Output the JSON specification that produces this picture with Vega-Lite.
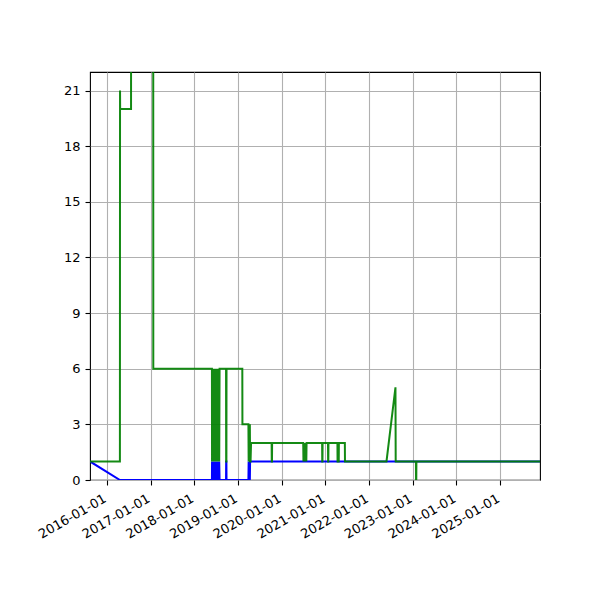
{
  "$schema": "https://vega.github.io/schema/vega-lite/v6.json",
  "autosize": "none",
  "width": 450,
  "height": 408,
  "padding": {"left": 90, "top": 72, "right": 60, "bottom": 120},
  "background": "white",
  "config": {
    "view": {"stroke": "black", "strokeWidth": 1.1},
    "axis": {
      "domain": false,
      "grid": true,
      "gridColor": "#b0b0b0",
      "gridWidth": 1.1,
      "tickColor": "black",
      "tickSize": 5,
      "tickWidth": 1.1,
      "labelFont": "DejaVu Sans",
      "labelFontSize": 13,
      "labelColor": "black",
      "labelPadding": 5,
      "labelOverlap": false,
      "title": null
    }
  },
  "datasets": {
    "blue": [
      {"date": "2015-08-14", "value": 1},
      {"date": "2016-04-20", "value": 0},
      {"date": "2018-05-29", "value": 0},
      {"date": "2018-05-30", "value": 1},
      {"date": "2018-06-02", "value": 0},
      {"date": "2018-06-05", "value": 1},
      {"date": "2018-06-08", "value": 0},
      {"date": "2018-06-11", "value": 1},
      {"date": "2018-06-14", "value": 0},
      {"date": "2018-06-17", "value": 1},
      {"date": "2018-06-20", "value": 0},
      {"date": "2018-06-23", "value": 1},
      {"date": "2018-06-26", "value": 0},
      {"date": "2018-06-29", "value": 1},
      {"date": "2018-07-02", "value": 0},
      {"date": "2018-07-05", "value": 1},
      {"date": "2018-07-08", "value": 0},
      {"date": "2018-07-11", "value": 1},
      {"date": "2018-07-14", "value": 0},
      {"date": "2018-07-17", "value": 1},
      {"date": "2018-07-20", "value": 0},
      {"date": "2018-07-23", "value": 1},
      {"date": "2018-07-26", "value": 0},
      {"date": "2018-07-29", "value": 1},
      {"date": "2018-08-01", "value": 0},
      {"date": "2018-09-24", "value": 0},
      {"date": "2018-09-25", "value": 1},
      {"date": "2018-09-27", "value": 1},
      {"date": "2018-09-28", "value": 0},
      {"date": "2019-03-30", "value": 0},
      {"date": "2019-04-01", "value": 1},
      {"date": "2019-04-05", "value": 0},
      {"date": "2019-04-07", "value": 1},
      {"date": "2019-04-11", "value": 0},
      {"date": "2019-04-13", "value": 1},
      {"date": "2025-11-30", "value": 1}
    ],
    "green": [
      {"date": "2015-08-14", "value": 1},
      {"date": "2016-04-20", "value": 1},
      {"date": "2016-04-21", "value": 21},
      {"date": "2016-04-22", "value": 20},
      {"date": "2016-07-22", "value": 20},
      {"date": "2016-07-23", "value": 40},
      {"date": "2017-01-23", "value": 40},
      {"date": "2017-01-24", "value": 6},
      {"date": "2018-05-29", "value": 6},
      {"date": "2018-05-30", "value": 1},
      {"date": "2018-06-02", "value": 6},
      {"date": "2018-06-05", "value": 1},
      {"date": "2018-06-08", "value": 6},
      {"date": "2018-06-11", "value": 1},
      {"date": "2018-06-14", "value": 6},
      {"date": "2018-06-17", "value": 1},
      {"date": "2018-06-20", "value": 6},
      {"date": "2018-06-23", "value": 1},
      {"date": "2018-06-26", "value": 6},
      {"date": "2018-06-29", "value": 1},
      {"date": "2018-07-02", "value": 6},
      {"date": "2018-07-05", "value": 1},
      {"date": "2018-07-08", "value": 6},
      {"date": "2018-07-11", "value": 1},
      {"date": "2018-07-14", "value": 6},
      {"date": "2018-07-17", "value": 1},
      {"date": "2018-07-20", "value": 6},
      {"date": "2018-07-23", "value": 1},
      {"date": "2018-07-26", "value": 6},
      {"date": "2018-07-29", "value": 1},
      {"date": "2018-08-01", "value": 6},
      {"date": "2018-09-24", "value": 6},
      {"date": "2018-09-25", "value": 1},
      {"date": "2018-09-27", "value": 1},
      {"date": "2018-09-28", "value": 6},
      {"date": "2019-02-07", "value": 6},
      {"date": "2019-02-08", "value": 3},
      {"date": "2019-03-30", "value": 3},
      {"date": "2019-04-01", "value": 1},
      {"date": "2019-04-05", "value": 3},
      {"date": "2019-04-07", "value": 1},
      {"date": "2019-04-11", "value": 3},
      {"date": "2019-04-13", "value": 1},
      {"date": "2019-04-17", "value": 1},
      {"date": "2019-04-21", "value": 2},
      {"date": "2019-10-10", "value": 2},
      {"date": "2019-10-11", "value": 1},
      {"date": "2019-10-13", "value": 1},
      {"date": "2019-10-14", "value": 2},
      {"date": "2020-06-30", "value": 2},
      {"date": "2020-07-02", "value": 1},
      {"date": "2020-07-05", "value": 2},
      {"date": "2020-07-08", "value": 1},
      {"date": "2020-07-11", "value": 2},
      {"date": "2020-07-14", "value": 1},
      {"date": "2020-07-17", "value": 2},
      {"date": "2020-07-20", "value": 1},
      {"date": "2020-07-23", "value": 2},
      {"date": "2020-07-26", "value": 1},
      {"date": "2020-07-28", "value": 2},
      {"date": "2020-12-05", "value": 2},
      {"date": "2020-12-06", "value": 1},
      {"date": "2020-12-08", "value": 1},
      {"date": "2020-12-09", "value": 2},
      {"date": "2021-01-23", "value": 2},
      {"date": "2021-01-24", "value": 1},
      {"date": "2021-01-26", "value": 1},
      {"date": "2021-01-27", "value": 2},
      {"date": "2021-04-12", "value": 2},
      {"date": "2021-04-13", "value": 1},
      {"date": "2021-04-23", "value": 1},
      {"date": "2021-04-24", "value": 2},
      {"date": "2021-06-13", "value": 2},
      {"date": "2021-06-14", "value": 1},
      {"date": "2022-05-27", "value": 1},
      {"date": "2022-08-10", "value": 5},
      {"date": "2022-08-12", "value": 1},
      {"date": "2023-01-28", "value": 1},
      {"date": "2023-01-29", "value": 0},
      {"date": "2023-01-31", "value": 0},
      {"date": "2023-02-01", "value": 1},
      {"date": "2025-11-30", "value": 1}
    ]
  },
  "encoding": {
    "x": {
      "field": "date",
      "type": "temporal",
      "scale": {
        "type": "utc",
        "nice": false,
        "domain": [
          {"year": 2015, "month": 8, "date": 14, "utc": true},
          {"year": 2025, "month": 11, "date": 30, "utc": true}
        ]
      },
      "axis": {
        "format": "%Y-%m-%d",
        "tickCount": {"interval": "year", "step": 1},
        "labelAngle": -30,
        "labelAlign": "right",
        "labelBaseline": "top",
        "labelBound": false,
        "labelFlush": false,
        "labelPadding": 7,
        "labelOffset": -5
      }
    },
    "y": {
      "field": "value",
      "type": "quantitative",
      "scale": {"domain": [0, 22], "nice": false, "zero": true},
      "axis": {"values": [0, 3, 6, 9, 12, 15, 18, 21]}
    }
  },
  "layer": [
    {
      "data": {"name": "blue"},
      "mark": {"type": "line", "color": "#0000ff", "strokeWidth": 2, "clip": true}
    },
    {
      "data": {"name": "green"},
      "mark": {"type": "line", "color": "#008000", "strokeWidth": 2, "opacity": 0.92, "clip": true}
    }
  ]
}
